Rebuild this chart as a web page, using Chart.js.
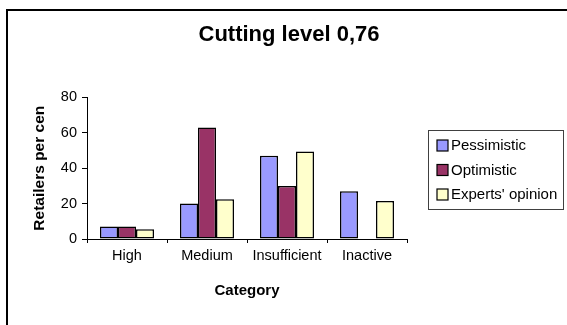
<!DOCTYPE html>
<html>
<head>
<meta charset="utf-8">
<script src="https://cdn.jsdelivr.net/npm/chart.js@4/dist/chart.umd.min.js"></script>
<style>
  html, body { margin: 0; padding: 0; background: #fff; }
  #wrap { width: 567px; height: 325px; position: relative; }
</style>
</head>
<body>
<div id="wrap"><canvas id="c" width="567" height="325"></canvas></div>
<script>
// Retailer shares by activity category
const categories = ['High', 'Medium', 'Insufficient', 'Inactive'];
const pessimistic = [7, 20, 47, 27];
const optimistic = [7, 63, 30, 0];
const expertsOpinion = [5.5, 22.5, 49.5, 21.5];
const yTicks = [0, 20, 40, 60, 80];

const FONT = 'Liberation Sans, Arial, sans-serif';

// Frame lines along the top and left edge of the chart block
const framePlugin = {
  id: 'frame',
  afterDraw(chart) {
    const ctx = chart.ctx;
    ctx.save();
    ctx.strokeStyle = '#000';
    ctx.lineWidth = 2;
    ctx.beginPath();
    ctx.moveTo(567, 10);
    ctx.lineTo(7, 10);
    ctx.lineTo(7, 325);
    ctx.stroke();
    ctx.restore();
  }
};

// Boxed legend to the right of the plot
const boxLegend = {
  id: 'boxLegend',
  afterDraw(chart) {
    const ctx = chart.ctx;
    const x = 428.5, y = 130.5, w = 135, h = 79;
    ctx.save();
    ctx.strokeStyle = '#404040';
    ctx.lineWidth = 1;
    ctx.strokeRect(x, y, w, h);
    ctx.font = '15px ' + FONT;
    ctx.textBaseline = 'middle';
    chart.data.datasets.forEach((ds, i) => {
      const cy = 145 + i * 24.5;
      ctx.fillStyle = ds.backgroundColor;
      ctx.fillRect(437, cy - 5, 11, 11);
      ctx.strokeStyle = '#000';
      ctx.lineWidth = 1.2;
      ctx.strokeRect(437, cy - 5, 11, 11);
      ctx.fillStyle = '#000';
      ctx.fillText(ds.label, 451, cy + 1);
    });
    ctx.restore();
  }
};

new Chart(document.getElementById('c'), {
  type: 'bar',
  data: {
    labels: categories,
    datasets: [
      { label: 'Pessimistic', data: pessimistic, backgroundColor: '#9999FF' },
      { label: 'Optimistic', data: optimistic, backgroundColor: '#993366' },
      { label: "Experts' opinion", data: expertsOpinion, backgroundColor: '#FFFFCC' }
    ].map(d => Object.assign(d, {
      borderColor: '#000',
      borderWidth: 1.5,
      borderSkipped: false,
      categoryPercentage: 0.675,
      barPercentage: 1
    }))
  },
  options: {
    responsive: false,
    animation: false,
    layout: { padding: { left: 11, right: 0, top: 0, bottom: 25 } },
    plugins: {
      legend: { display: false },
      tooltip: { enabled: false },
      title: {
        display: true,
        text: 'Cutting level 0,76',
        color: '#000',
        font: { family: FONT, size: 22, weight: 'bold' },
        padding: { top: 22, bottom: 49 }
      }
    },
    scales: {
      x: {
        afterFit(s) { s.height = 61; },
        grid: { display: true, drawOnChartArea: false, offset: true, tickLength: 4, color: '#000' },
        border: { display: true, color: '#000', width: 1 },
        ticks: { color: '#000', font: { family: FONT, size: 14.5 }, padding: 4 },
        title: {
          display: true,
          text: 'Category',
          color: '#000',
          font: { family: FONT, size: 15, weight: 'bold' },
          padding: { top: 0, bottom: 0 }
        }
      },
      y: {
        min: 0,
        max: 80,
        afterFit(s) { s.width = 76; },
        afterBuildTicks(s) { s.ticks = yTicks.map(v => ({ value: v })); },
        grid: { display: true, drawOnChartArea: false, tickLength: 5, color: '#000' },
        border: { display: true, color: '#000', width: 1 },
        ticks: { color: '#000', font: { family: FONT, size: 14.5 }, padding: 5 },
        title: {
          display: true,
          text: 'Retailers per cen',
          color: '#000',
          font: { family: FONT, size: 15.5, weight: 'bold' },
          padding: { top: 19, bottom: 0 }
        }
      },
      // empty strip on the right that holds the legend box
      side: {
        type: 'linear',
        position: 'right',
        afterFit(s) { s.width = 160; },
        grid: { display: false },
        border: { display: false },
        ticks: { display: false }
      }
    }
  },
  plugins: [framePlugin, boxLegend]
});
</script>
</body>
</html>
